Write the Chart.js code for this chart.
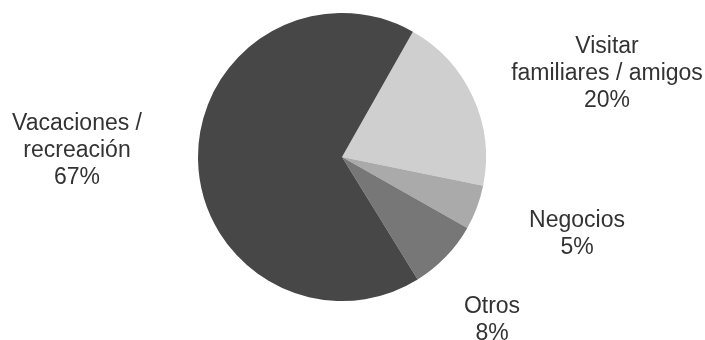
<!DOCTYPE html>
<html>
<head>
<meta charset="utf-8">
<script src="https://cdn.jsdelivr.net/npm/chart.js@4"></script>
<style>
  html, body { margin: 0; padding: 0; background: #fff; }
  #wrap { width: 705px; height: 340px; position: relative; }
</style>
</head>
<body>
<div id="wrap"><canvas id="pieChart"></canvas></div>
<script>
// data (clockwise, starting at the top-right edge)
const categories = ['Visitar familiares / amigos', 'Negocios', 'Otros', 'Vacaciones / recreación'];
const shares = [20, 5, 8, 67];
const sliceColors = ['#cfcfcf', '#aaaaaa', '#777777', '#474747'];
// label text lines as printed beside each slice
const labelLines = [
    ['Visitar', 'familiares / amigos', '20%'],
    ['Negocios', '5%'],
    ['Otros', '8%'],
    ['Vacaciones /', 'recreación', '67%']
];
// where each label block is centred (first line)
const labelSpots = [
    { x: 607, y: 47 },
    { x: 577, y: 221 },
    { x: 492, y: 307 },
    { x: 77, y: 124 }
];

const outsideLabels = {
    id: 'outsideLabels',
    afterDraw(chart) {
        const ctx = chart.ctx;
        ctx.save();
        ctx.font = '23px "Liberation Sans", Arial, sans-serif';
        ctx.fillStyle = '#333333';
        ctx.textAlign = 'center';
        ctx.textBaseline = 'middle';
        labelLines.forEach((lines, i) => {
            lines.forEach((line, j) => {
                ctx.fillText(line, labelSpots[i].x, labelSpots[i].y + j * 27);
            });
        });
        ctx.restore();
    }
};

const ctx = document.getElementById('pieChart').getContext('2d');
new Chart(ctx, {
    type: 'pie',
    data: {
        labels: categories,
        datasets: [{
            data: shares,
            backgroundColor: sliceColors,
            borderWidth: 0,
            hoverOffset: 0
        }]
    },
    options: {
        responsive: true,
        maintainAspectRatio: false,
        animation: false,
        rotation: 29.5,
        layout: { padding: { left: 198, right: 219, top: 12, bottom: 38 } },
        plugins: {
            legend: { display: false },
            tooltip: { enabled: false }
        }
    },
    plugins: [outsideLabels]
});
</script>
</body>
</html>
